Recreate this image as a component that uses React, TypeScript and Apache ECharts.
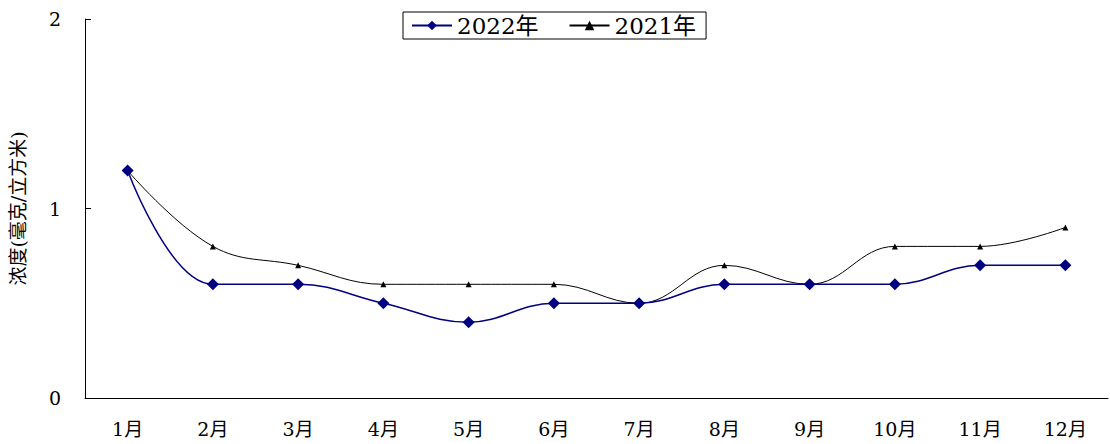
import React, { useEffect, useRef } from "react";
import * as echarts from "echarts";

const categories = ["1月", "2月", "3月", "4月", "5月", "6月", "7月", "8月", "9月", "10月", "11月", "12月"];
const series2022 = [1.2, 0.6, 0.6, 0.5, 0.4, 0.5, 0.5, 0.6, 0.6, 0.6, 0.7, 0.7];
const series2021 = [1.2, 0.8, 0.7, 0.6, 0.6, 0.6, 0.5, 0.7, 0.6, 0.8, 0.8, 0.9];
const yTicks = [0, 1, 2];

const FONT = "'DejaVu Serif', 'Noto Sans CJK SC', serif";

export default function App() {
  const ref = useRef<HTMLDivElement>(null);
  useEffect(() => {
    if (!ref.current) return;
    const chart = echarts.init(ref.current, null, { renderer: "svg" });
    chart.setOption({
      animation: false,
      backgroundColor: "#ffffff",
      grid: { left: 85, right: 2, top: 19, bottom: 46, containLabel: false },
      legend: {
        left: 403,
        top: 12,
        padding: [2, 10, 2, 8],
        itemGap: 30,
        itemWidth: 40,
        itemHeight: 12,
        borderColor: "#000",
        borderWidth: 1,
        backgroundColor: "#fff",
        textStyle: { fontFamily: FONT, fontSize: 23, color: "#000" },
        data: ["2022年", "2021年"],
      },
      xAxis: {
        type: "category",
        data: categories,
        boundaryGap: true,
        axisLine: { lineStyle: { color: "#000", width: 1 } },
        axisTick: { inside: true, length: 6, lineStyle: { color: "#000" } },
        axisLabel: { fontFamily: FONT, fontSize: 19, color: "#000", margin: 21 },
      },
      yAxis: {
        type: "value",
        min: yTicks[0],
        max: yTicks[yTicks.length - 1],
        interval: 1,
        name: "浓度(毫克/立方米)",
        nameLocation: "middle",
        nameGap: 58,
        nameRotate: 90,
        nameTextStyle: { fontFamily: FONT, fontSize: 19, color: "#000" },
        axisLine: { show: true, lineStyle: { color: "#000", width: 1 } },
        axisTick: { show: true, inside: true, length: 6, lineStyle: { color: "#000" } },
        splitLine: { show: false },
        axisLabel: { fontFamily: FONT, fontSize: 19, color: "#000", margin: 24 },
      },
      series: [
        {
          name: "2022年",
          type: "line",
          data: series2022,
          smooth: 0.4,
          symbol: "diamond",
          symbolSize: 12,
          lineStyle: { color: "#000080", width: 1.5 },
          itemStyle: { color: "#000080" },
          z: 3,
        },
        {
          name: "2021年",
          type: "line",
          data: series2021,
          smooth: 0.4,
          symbol: "triangle",
          symbolSize: 6,
          lineStyle: { color: "#000", width: 1 },
          itemStyle: { color: "#000" },
          z: 2,
        },
      ],
    });
    return () => chart.dispose();
  }, []);
  return <div ref={ref} style={{ width: 1110, height: 444, position: "absolute", left: 0, top: 0 }} />;
}
